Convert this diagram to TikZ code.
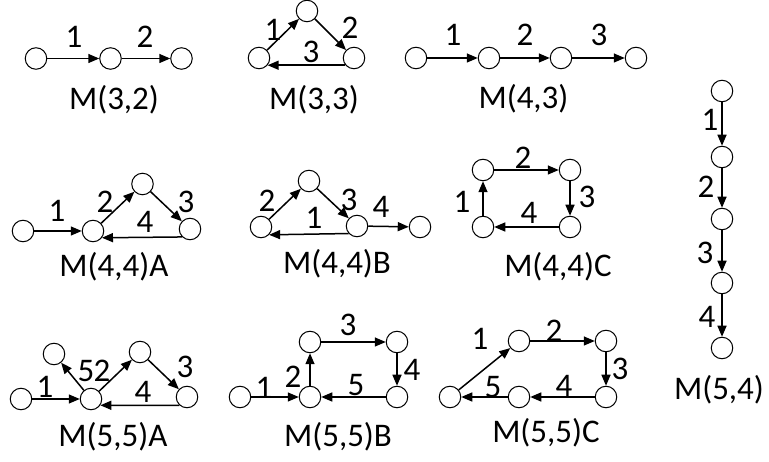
\documentclass[tikz,border=0pt]{standalone}
\usepackage{fontspec}
\setmainfont{Carlito}
\usetikzlibrary{arrows.meta}
\begin{document}
\begin{tikzpicture}[x=1pt,y=-1pt,
 v/.style={circle,draw,line width=1pt,minimum size=21.5pt,inner sep=0pt},
 e/.style={-{Triangle[length=11pt,width=9pt]},line width=1.5pt},
 lab/.style={inner sep=0pt,font=\fontsize{33}{38}\selectfont}]
\useasboundingbox (0,0) rectangle (769,462);
% ---------- M(3,2)
\node[v] (a1) at (36,58.5) {};
\node[v] (a2) at (110.5,58.5) {};
\node[v] (a3) at (181.5,58.5) {};
\draw[e] (a1) -- (a2);
\draw[e] (a2) -- (a3);
\node[lab] (al1) at (74,37) {1};
\node[lab] (al2) at (145,37) {2};
\node[lab] (ac) at (114,100) {M(3,2)};
% ---------- M(3,3)
\node[v] (b1) at (259,58) {};
\node[v] (b2) at (307,11) {};
\node[v] (b3) at (354,58) {};
\draw[e] (b1) -- (b2);
\draw[e] (b2) -- (b3);
\draw[e] (b3.220) -- (b1.-40);
\node[lab] (bl1) at (273,30) {1};
\node[lab] (bl2) at (350,28) {2};
\node[lab] (bl3) at (311,52) {3};
\node[lab] (bc) at (314,100) {M(3,3)};
% ---------- M(4,3)
\node[v] (c1) at (416,58) {};
\node[v] (c2) at (489,58) {};
\node[v] (c3) at (561,58) {};
\node[v] (c4) at (636,58) {};
\draw[e] (c1) -- (c2);
\draw[e] (c2) -- (c3);
\draw[e] (c3) -- (c4);
\node[lab] (cl1) at (453,35) {1};
\node[lab] (cl2) at (525,35) {2};
\node[lab] (cl3) at (599,35) {3};
\node[lab] (cc) at (523.5,99) {M(4,3)};
% ---------- M(4,4)A
\node[v] (d1) at (23,231) {};
\node[v] (d2) at (93,231) {};
\node[v] (d3) at (142.5,184) {};
\node[v] (d4) at (190,229) {};
\draw[e] (d1) -- (d2);
\draw[e] (d2) -- (d3);
\draw[e] (d3) -- (d4);
\draw[e] (d4.225) -- (d2.-37);
\node[lab] (dl1) at (57,211) {1};
\node[lab] (dl2) at (105,202) {2};
\node[lab] (dl3) at (186,202) {3};
\node[lab] (dl4) at (145,222) {4};
\node[lab] (dc) at (114,267) {M(4,4)A};
% ---------- M(4,4)B
\node[v] (g1) at (261,227) {};
\node[v] (g2) at (309,181) {};
\node[v] (g3) at (357,226) {};
\node[v] (g4) at (420,227) {};
\draw[e] (g1) -- (g2);
\draw[e] (g2) -- (g3);
\draw[e] (g3.222) -- (g1.-44);
\draw[e] (g3) -- (g4);
\node[lab] (gl2) at (267,201) {2};
\node[lab] (gl3) at (349,200) {3};
\node[lab] (gl1) at (314,218) {1};
\node[lab] (gl4) at (381,207) {4};
\node[lab] (gc) at (337,264) {M(4,4)B};
% ---------- M(4,4)C
\node[v] (h1) at (483,227) {};
\node[v] (h2) at (483,170) {};
\node[v] (h3) at (570,170) {};
\node[v] (h4) at (570,227) {};
\draw[e] (h1) -- (h2);
\draw[e] (h2) -- (h3);
\draw[e] (h3) -- (h4);
\draw[e] (h4) -- (h1);
\node[lab] (hl1) at (462,202) {1};
\node[lab] (hl2) at (523,158) {2};
\node[lab] (hl3) at (587,197) {3};
\node[lab] (hl4) at (529,213) {4};
\node[lab] (hc) at (558,267) {M(4,4)C};
% ---------- M(5,4)
\node[v] (f1) at (722,91) {};
\node[v] (f2) at (722,157) {};
\node[v] (f3) at (722,219) {};
\node[v] (f4) at (722,283) {};
\node[v] (f5) at (722,348) {};
\draw[e] (f1) -- (f2);
\draw[e] (f2) -- (f3);
\draw[e] (f3) -- (f4);
\draw[e] (f4) -- (f5);
\node[lab] (fl1) at (710,120) {1};
\node[lab] (fl2) at (706,187) {2};
\node[lab] (fl3) at (705,253) {3};
\node[lab] (fl4) at (707,317) {4};
\node[lab] (fc) at (719,390) {M(5,4)};
% ---------- M(5,5)A
\node[v] (i1) at (21,399) {};
\node[v] (i2) at (91,399) {};
\node[v] (i3) at (54,354) {};
\node[v] (i4) at (140,352) {};
\node[v] (i5) at (187,397) {};
\draw[e] (i1) -- (i2);
\draw[e] (i2) -- (i3);
\draw[e] (i2) -- (i4);
\draw[e] (i4) -- (i5);
\draw[e] (i5.228) -- (i2.-34);
\node[lab] (il1) at (45,387) {1};
\node[lab] (il5) at (86,371) {5};
\node[lab] (il2) at (102,371) {2};
\node[lab] (il3) at (185,367) {3};
\node[lab] (il4) at (143,392) {4};
\node[lab] (ic) at (113,437) {M(5,5)A};
% ---------- M(5,5)B
\node[v] (j1) at (240,397) {};
\node[v] (j2) at (310,397) {};
\node[v] (j3) at (310,342) {};
\node[v] (j4) at (397,342) {};
\node[v] (j5) at (397,397) {};
\draw[e] (j1) -- (j2);
\draw[e] (j2) -- (j3);
\draw[e] (j3) -- (j4);
\draw[e] (j4) -- (j5);
\draw[e] (j5) -- (j2);
\node[lab] (jl1) at (264,388) {1};
\node[lab] (jl2) at (293,377) {2};
\node[lab] (jl3) at (348,325) {3};
\node[lab] (jl4) at (412,370) {4};
\node[lab] (jl5) at (356,385) {5};
\node[lab] (jc) at (338,437) {M(5,5)B};
% ---------- M(5,5)C
\node[v] (k1) at (450,397) {};
\node[v] (k2) at (519,341) {};
\node[v] (k3) at (606,341) {};
\node[v] (k4) at (606,397) {};
\node[v] (k5) at (519,397) {};
\draw[e] (k1) -- (k2);
\draw[e] (k2) -- (k3);
\draw[e] (k3) -- (k4);
\draw[e] (k4) -- (k5);
\draw[e] (k5) -- (k1);
\node[lab] (kl1) at (480,339) {1};
\node[lab] (kl2) at (554,331) {2};
\node[lab] (kl3) at (620,369) {3};
\node[lab] (kl4) at (564,386) {4};
\node[lab] (kl5) at (493,387) {5};
\node[lab] (kc) at (546,433) {M(5,5)C};
\end{tikzpicture}
\end{document}
